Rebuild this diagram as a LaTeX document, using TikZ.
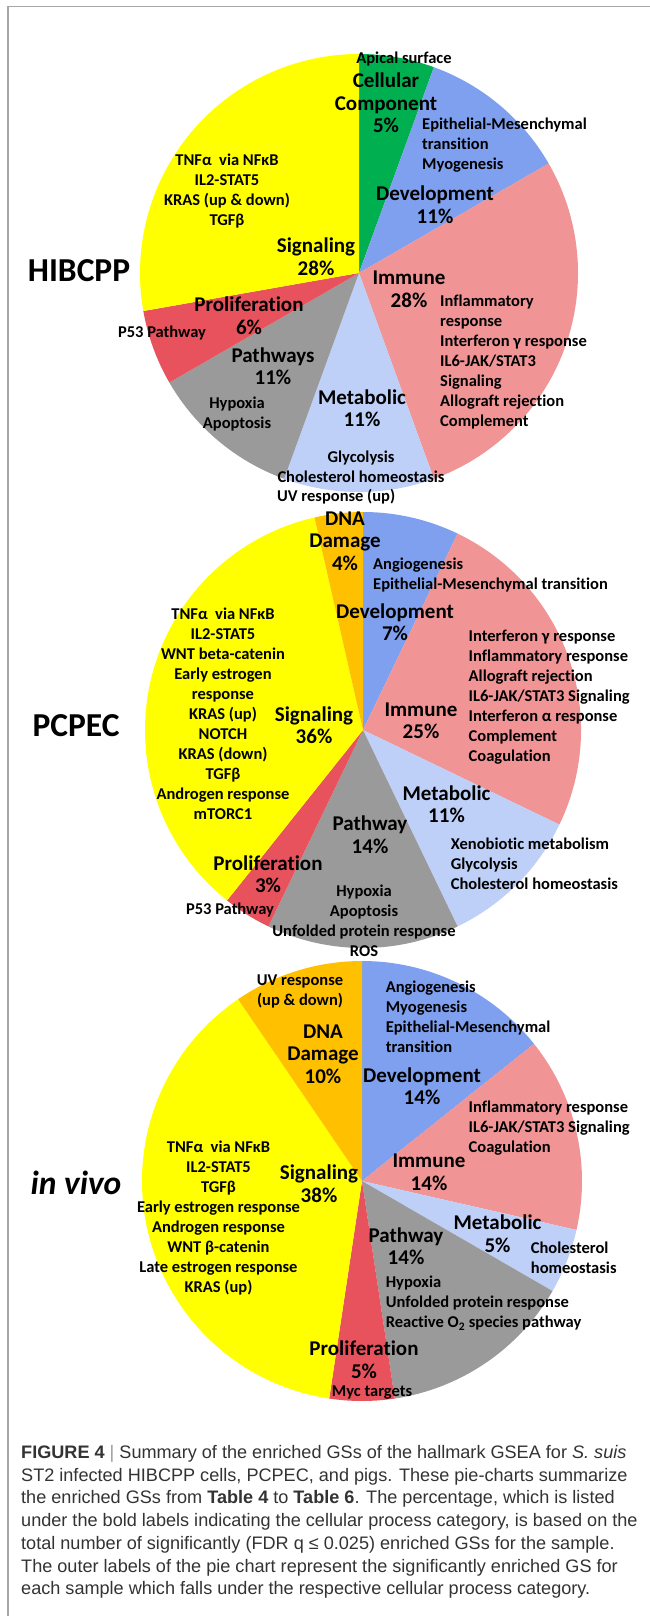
\documentclass[tikz,border=0pt]{standalone}
\usepackage{fontspec}
\setmainfont{Carlito}[Ligatures=NoCommon]
\newfontfamily\capfont{Liberation Sans}

\definecolor{cgreen}{HTML}{00B050}
\definecolor{cblue}{HTML}{7EA0EE}
\definecolor{cpink}{HTML}{F09496}
\definecolor{clight}{HTML}{BED0F8}
\definecolor{cgray}{HTML}{9A9A9A}
\definecolor{cred}{HTML}{E8525C}
\definecolor{cyellow}{HTML}{FFFF00}
\definecolor{corange}{HTML}{FFC000}

\tikzset{
  cat/.style={font=\fontsize{21}{22.5}\selectfont\bfseries, align=center, inner sep=0pt},
  gs/.style={font=\fontsize{16.5}{20}\selectfont\bfseries, align=center, inner sep=0pt},
  gsl/.style={gs, align=left, anchor=west},
  sample/.style={font=\fontsize{33.5}{36}\selectfont\bfseries, inner sep=0pt},
}

\begin{document}
\begin{tikzpicture}[x=1pt,y=-1pt]
  \useasboundingbox (0,0) rectangle (650,1616);
  \fill[white] (0,0) rectangle (650,1616);
  \draw[gray!70, line width=1.2pt] (8,1616) -- (8,6.5) -- (650,6.5);

  % HIBCPP
  \coordinate (p1) at (359,273);
  \foreach \a/\b/\c in {0/20/cgreen, 20/60/cblue, 60/160/cpink, 160/200/clight,
                        200/240/cgray, 240/260/cred, 260/360/cyellow}
    \fill[\c] (p1) -- ++({\a-90}:219) arc[start angle={\a-90}, end angle={\b-90}, radius=219] -- cycle;
  \node[sample] (hib) at (79,271) {HIBCPP};
  \node[gs] (apical) at (404,59) {Apical surface};
  \node[cat] (cc1) at (386,103) {Cellular\\Component\\5\%};
  \node[gsl] (devgs1) at (422,145) {Epithelial-Mesenchymal\\transition\\Myogenesis};
  \node[cat] (dev1) at (435,204.5) {Development\\11\%};
  \node[gs] (siggs1) at (227,191) {TNFα\ \ via NFκB\\IL2-STAT5\\KRAS (up \& down)\\TGFβ};
  \node[cat] (sig1) at (316,256.5) {Signaling\\28\%};
  \node[cat] (imm1) at (409,289.5) {Immune\\28\%};
  \node[gsl] (immgs1) at (440,362.5) {Inflammatory\\response\\Interferon γ response\\IL6-JAK/STAT3\\Signaling\\Allograft rejection\\Complement};
  \node[cat] (pro1) at (249,315.5) {Proliferation\\6\%};
  \node[gs] (progs1) at (162,333) {P53 Pathway};
  \node[cat] (path1) at (273,366) {Pathways\\11\%};
  \node[gs] (pathgs1) at (237,414) {Hypoxia\\Apoptosis};
  \node[cat] (met1) at (362,408) {Metabolic\\11\%};
  \node[gs] (metgs1) at (361,467) {Glycolysis\\Cholesterol homeostasis};
  \node[gsl] (uvgs1) at (277,497) {UV response (up)};

  % PCPEC
  \coordinate (p2) at (363,730);
  \foreach \a/\b/\c in {0/25.714/cblue, 25.714/115.714/cpink, 115.714/154.286/clight,
                        154.286/205.714/cgray, 205.714/218.571/cred, 218.571/347.143/cyellow,
                        347.143/360/corange}
    \fill[\c] (p2) -- ++({\a-90}:218) arc[start angle={\a-90}, end angle={\b-90}, radius=218] -- cycle;
  \node[sample] (pcpec) at (76,726) {PCPEC};
  \node[cat] (dna2) at (345,541) {DNA\\Damage\\4\%};
  \node[gsl] (devgs2) at (373,575) {Angiogenesis\\Epithelial-Mesenchymal transition};
  \node[cat] (dev2) at (395,622) {Development\\7\%};
  \node[gsl] (immgs2) at (468.5,697.5) {Interferon γ response\\Inflammatory response\\Allograft rejection\\IL6-JAK/STAT3 Signaling\\Interferon α response\\Complement\\Coagulation};
  \node[cat] (imm2) at (421,721) {Immune\\25\%};
  \node[gs] (siggs2) at (223,713.5) {TNFα\ \ via NFκB\\IL2-STAT5\\WNT beta-catenin\\Early estrogen\\response\\KRAS (up)\\NOTCH\\KRAS (down)\\TGFβ\\Androgen response\\mTORC1};
  \node[cat] (sig2) at (314,725) {Signaling\\36\%};
  \node[cat] (met2) at (446.5,804) {Metabolic\\11\%};
  \node[gsl] (metgs2) at (450.7,864) {Xenobiotic metabolism\\Glycolysis\\Cholesterol homeostasis};
  \node[cat] (path2) at (370,834.5) {Pathway\\14\%};
  \node[cat] (pro2) at (268,874) {Proliferation\\3\%};
  \node[gs] (pathgs2) at (364,920.5) {Hypoxia\\Apoptosis\\Unfolded protein response\\ROS};
  \node[gs] (progs2) at (230,910) {P53 Pathway};

  % in vivo
  \coordinate (p3) at (362,1181);
  \foreach \a/\b/\c in {0/51.429/cblue, 51.429/102.857/cpink, 102.857/120/clight,
                        120/171.429/cgray, 171.429/188.571/cred, 188.571/325.714/cyellow,
                        325.714/360/corange}
    \fill[\c] (p3) -- ++({\a-90}:220) arc[start angle={\a-90}, end angle={\b-90}, radius=220] -- cycle;
  \node[sample] (vivo) at (76,1183) {\itshape in vivo};
  \node[gs] (dnags3) at (300,991.5) {UV response\\(up \& down)};
  \node[cat] (dna3) at (323,1054) {DNA\\Damage\\10\%};
  \node[gsl] (devgs3) at (385.6,1016.5) {Angiogenesis\\Myogenesis\\Epithelial-Mesenchymal\\transition};
  \node[cat] (dev3) at (422,1086) {Development\\14\%};
  \node[gsl] (immgs3) at (468.5,1128.5) {Inflammatory response\\IL6-JAK/STAT3 Signaling\\Coagulation};
  \node[cat] (imm3) at (429,1172.5) {Immune\\14\%};
  \node[gs] (siggs3) at (218.5,1218) {TNFα\ \ via NFκB\\IL2-STAT5\\TGFβ\\Early estrogen response\\Androgen response\\WNT β-catenin\\Late estrogen response\\KRAS (up)};
  \node[cat] (sig3) at (319,1183.5) {Signaling\\38\%};
  \node[cat] (met3) at (497.5,1233.5) {Metabolic\\5\%};
  \node[gsl] (metgs3) at (530.7,1258) {Cholesterol\\homeostasis};
  \node[cat] (path3) at (406,1246) {Pathway\\14\%};
  \node[gsl] (pathgs3) at (385.6,1303) {Hypoxia\\Unfolded protein response\\Reactive O\textsubscript{2} species pathway};
  \node[cat] (pro3) at (364,1359.5) {Proliferation\\5\%};
  \node[gs] (progs3) at (372,1393) {Myc targets};

  % caption
  \node[anchor=west, align=left, inner sep=0pt, text=black!80,
        font=\capfont\fontsize{18.1}{22.7}\selectfont] (caption) at (21,1522)
    {\textbf{FIGURE 4} {\color{black!40}|} Summary of the enriched GSs of the hallmark GSEA for \textit{S. suis}\\
     ST2 infected HIBCPP cells, PCPEC, and pigs. These pie-charts summarize\\
     the enriched GSs from \textbf{Table 4} to \textbf{Table 6}. The percentage, which is listed\\
     under the bold labels indicating the cellular process category, is based on the\\
     total number of significantly (FDR q ≤ 0.025) enriched GSs for the sample.\\
     The outer labels of the pie chart represent the significantly enriched GS for\\
     each sample which falls under the respective cellular process category.};
\end{tikzpicture}
\end{document}
